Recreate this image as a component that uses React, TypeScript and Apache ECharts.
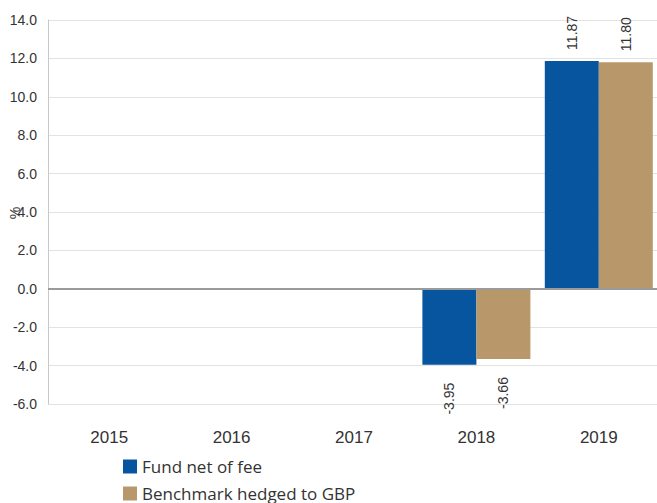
import React, { useEffect, useRef } from "react";
import * as echarts from "echarts";

const categories = ["2015", "2016", "2017", "2018", "2019"];
const fundValues: (number | null)[] = [null, null, null, -3.95, 11.87];
const benchValues: (number | null)[] = [null, null, null, -3.66, 11.8];
const seriesNames = ["Fund net of fee", "Benchmark hedged to GBP"];
const colors = ["#07549F", "#B8986A"];
const yAxisTitle = "%";

function toData(vals: (number | null)[]) {
  return vals.map((v) =>
    v === null
      ? null
      : {
          value: v,
          label:
            v >= 0
              ? { position: "top", distance: 11, align: "left", verticalAlign: "middle" }
              : { position: "bottom", distance: 18, align: "right", verticalAlign: "middle" },
        }
  );
}

export default function App() {
  const ref = useRef<HTMLDivElement>(null);
  useEffect(() => {
    document.body.style.margin = "0";
    const chart = echarts.init(ref.current!, null, { renderer: "svg" });
    const labelBase = {
      show: true,
      rotate: 90,
      fontSize: 14,
      color: "#333",
      fontFamily: "Liberation Sans",
      formatter: (p: any) => Number(p.value).toFixed(2),
    };
    const legendCommon = {
      orient: "horizontal",
      left: 118,
      itemWidth: 14,
      itemHeight: 14,
      icon: "rect",
      textStyle: { fontSize: 17, color: "#333", fontFamily: "Open Sans" },
    };
    chart.setOption({
      animation: false,
      grid: { left: 48, top: 20, width: 612, height: 384, outerBoundsMode: "none", containLabel: false },
      legend: [
        { ...legendCommon, top: 453, data: [seriesNames[0]] },
        { ...legendCommon, top: 480, data: [seriesNames[1]] },
      ],
      graphic: [
        {
          type: "text",
          x: 15,
          y: 213,
          rotation: Math.PI / 2,
          style: {
            text: yAxisTitle,
            fontSize: 14,
            fill: "#333",
            fontFamily: "Liberation Sans",
            textAlign: "center",
            textVerticalAlign: "middle",
          },
        },
      ],
      xAxis: {
        type: "category",
        data: categories,
        axisLine: { show: false, onZero: false },
        axisTick: { show: false },
        axisLabel: { margin: 25, fontSize: 17, color: "#333", fontFamily: "Liberation Sans" },
      },
      yAxis: {
        type: "value",
        min: -6,
        max: 14,
        interval: 2,
        axisLine: { show: true, lineStyle: { color: "#c8c8c8", width: 1 } },
        axisTick: { show: false },
        axisLabel: {
          margin: 11,
          fontSize: 14,
          color: "#333",
          fontFamily: "Liberation Sans",
          formatter: (v: number) => v.toFixed(1),
        },
        splitLine: { lineStyle: { color: "#e3e3e3", width: 1 } },
      },
      series: [
        {
          name: seriesNames[0],
          type: "bar",
          data: toData(fundValues),
          barWidth: 54,
          barGap: "0%",
          itemStyle: { color: colors[0] },
          label: labelBase,
          markLine: {
            silent: true,
            symbol: "none",
            label: { show: false },
            lineStyle: { color: "#9a9a9a", width: 2, type: "solid" },
            data: [{ yAxis: 0 }],
          },
        },
        {
          name: seriesNames[1],
          type: "bar",
          data: toData(benchValues),
          barWidth: 54,
          barGap: "0%",
          itemStyle: { color: colors[1] },
          label: labelBase,
        },
      ],
    });
    return () => chart.dispose();
  }, []);
  return <div ref={ref} style={{ width: 657, height: 503 }} />;
}
